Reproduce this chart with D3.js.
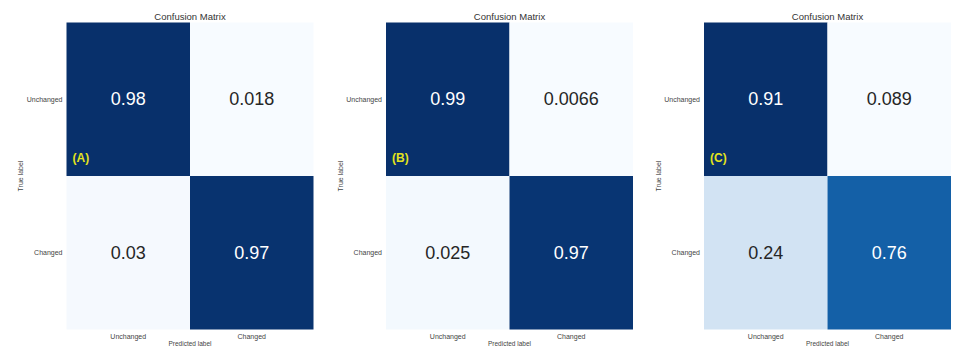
<!DOCTYPE html>
<html>
<head>
<meta charset="utf-8">
<script src="https://cdn.jsdelivr.net/npm/d3@7"></script>
<style>
  html, body { margin: 0; padding: 0; background: #ffffff; }
  svg { display: block; }
</style>
</head>
<body>
<svg id="chart" width="953" height="347"></svg>
<script>
// Class names shared by rows (true label) and columns (predicted label)
const categories = ["Unchanged", "Changed"];
// Panel tags drawn in the lower-left corner of the first cell
const panelTags = ["(A)", "(B)", "(C)"];
// Normalised confusion matrices, rows = true label, columns = predicted label
const matrixA = [[0.98, 0.018], [0.03, 0.97]];
const matrixB = [[0.99, 0.0066], [0.025, 0.97]];
const matrixC = [[0.91, 0.089], [0.24, 0.76]];
const matrices = [matrixA, matrixB, matrixC];

const titleText = "Confusion Matrix";
const xTitle = "Predicted label";
const yTitle = "True label";

const svg = d3.select("#chart");

// Heatmap frame of each panel
const panelLeft = [66.5, 386, 704];
const gridW = 247, gridTop = 22.5, gridH = 307;

matrices.forEach((m, p) => {
  const g = svg.append("g").attr("transform", `translate(${panelLeft[p]},${gridTop})`);

  const x = d3.scaleBand().domain(categories).range([0, gridW]);
  const y = d3.scaleBand().domain(categories).range([0, gridH]);

  const flat = m.flat();
  const color = d3.scaleSequential(d3.interpolateBlues)
    .domain([d3.min(flat), d3.max(flat)]);
  const norm = d3.scaleLinear().domain(color.domain()).range([0, 1]);

  const cells = [];
  categories.forEach((rc, i) => categories.forEach((cc, j) => {
    cells.push({ row: rc, col: cc, v: m[i][j] });
  }));

  g.selectAll("rect.cell").data(cells).join("rect")
    .attr("class", "cell")
    .attr("x", d => x(d.col))
    .attr("y", d => y(d.row))
    .attr("width", x.bandwidth())
    .attr("height", y.bandwidth())
    .attr("fill", d => color(d.v));

  g.selectAll("text.val").data(cells).join("text")
    .attr("class", "val")
    .attr("x", d => x(d.col) + x.bandwidth() / 2)
    .attr("y", d => y(d.row) + y.bandwidth() / 2)
    .attr("text-anchor", "middle")
    .attr("dominant-baseline", "central")
    .attr("font-family", "'Liberation Sans', Arial, sans-serif")
    .attr("font-size", 18)
    .attr("fill", d => norm(d.v) > 0.5 ? "#ffffff" : "#262626")
    .text(d => String(d.v));

  // Panel tag
  g.append("text")
    .attr("x", x(categories[0]) + 6)
    .attr("y", y(categories[0]) + y.bandwidth() - 14)
    .attr("font-family", "'Liberation Sans', Arial, sans-serif")
    .attr("font-weight", "bold")
    .attr("font-size", 12)
    .attr("fill", "#e3e31c")
    .text(panelTags[p]);

  // Row tick labels
  g.selectAll("text.ylab").data(categories).join("text")
    .attr("class", "ylab")
    .attr("x", -4)
    .attr("y", d => y(d) + y.bandwidth() / 2)
    .attr("text-anchor", "end")
    .attr("dominant-baseline", "central")
    .attr("font-family", "'Liberation Sans', Arial, sans-serif")
    .attr("font-size", 7)
    .attr("fill", "#444")
    .text(d => d);

  // Column tick labels
  g.selectAll("text.xlab").data(categories).join("text")
    .attr("class", "xlab")
    .attr("x", d => x(d) + x.bandwidth() / 2)
    .attr("y", gridH + 9)
    .attr("text-anchor", "middle")
    .attr("font-family", "'Liberation Sans', Arial, sans-serif")
    .attr("font-size", 7)
    .attr("fill", "#444")
    .text(d => d);

  // Axis titles
  g.append("text")
    .attr("x", gridW / 2)
    .attr("y", gridH + 16)
    .attr("text-anchor", "middle")
    .attr("font-family", "'Liberation Sans', Arial, sans-serif")
    .attr("font-size", 6.5)
    .attr("fill", "#444")
    .text(xTitle);

  g.append("text")
    .attr("transform", `translate(-46,${gridH / 2}) rotate(-90)`)
    .attr("text-anchor", "middle")
    .attr("dominant-baseline", "central")
    .attr("font-family", "'Liberation Sans', Arial, sans-serif")
    .attr("font-size", 7)
    .attr("fill", "#444")
    .text(yTitle);

  // Title
  g.append("text")
    .attr("x", gridW / 2)
    .attr("y", -3)
    .attr("text-anchor", "middle")
    .attr("font-family", "'Liberation Sans', Arial, sans-serif")
    .attr("font-size", 9.5)
    .attr("fill", "#333")
    .text(titleText);
});
</script>
</body>
</html>
